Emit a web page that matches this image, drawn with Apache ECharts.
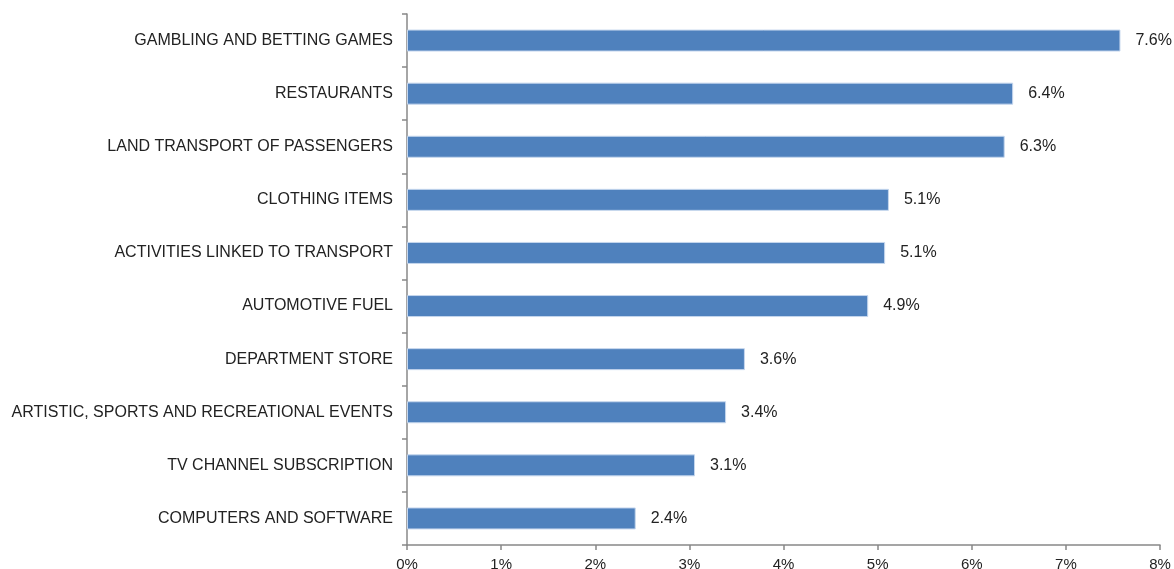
<!DOCTYPE html>
<html><head><meta charset="utf-8">
<script src="https://cdn.jsdelivr.net/npm/echarts@6/dist/echarts.min.js"></script>
<style>html,body{margin:0;padding:0;background:#fff}#c{width:1174px;height:569px}</style>
</head><body><div id="c"></div>
<script>
const categories = [
  "GAMBLING AND BETTING GAMES",
  "RESTAURANTS",
  "LAND TRANSPORT OF PASSENGERS",
  "CLOTHING ITEMS",
  "ACTIVITIES LINKED TO TRANSPORT",
  "AUTOMOTIVE FUEL",
  "DEPARTMENT STORE",
  "ARTISTIC, SPORTS AND RECREATIONAL EVENTS",
  "TV CHANNEL SUBSCRIPTION",
  "COMPUTERS AND SOFTWARE"
];
const values = [7.58, 6.44, 6.35, 5.12, 5.08, 4.90, 3.59, 3.39, 3.06, 2.43];
const valueLabels = ["7.6%", "6.4%", "6.3%", "5.1%", "5.1%", "4.9%", "3.6%", "3.4%", "3.1%", "2.4%"];
const xTicks = [0, 1, 2, 3, 4, 5, 6, 7, 8];

const chart = echarts.init(document.getElementById('c'), null, {renderer: 'canvas'});
const font = 'Liberation Sans, Arial, sans-serif';
chart.setOption({
  animation: false,
  grid: {left: 407, right: 14, top: 14, bottom: 24, containLabel: false, outerBoundsMode: 'none'},
  xAxis: {
    type: 'value', min: xTicks[0], max: xTicks[xTicks.length - 1], interval: 1,
    axisLine: {show: true, lineStyle: {color: '#888', width: 1.5}},
    axisTick: {show: true, length: 5, inside: false, lineStyle: {color: '#888', width: 1.5}},
    splitLine: {show: false},
    axisLabel: {formatter: v => v + '%', color: '#222', fontSize: 15, fontFamily: font, margin: 12}
  },
  yAxis: {
    type: 'category', inverse: true, data: categories,
    axisLine: {show: true, lineStyle: {color: '#888', width: 1.5}},
    axisTick: {show: true, length: 5, alignWithLabel: false, lineStyle: {color: '#888', width: 1.5}},
    axisLabel: {color: '#222', fontSize: 16, fontFamily: font, margin: 14}
  },
  series: [{
    type: 'bar', data: values, barWidth: 22,
    itemStyle: {color: '#4F81BD', borderColor: '#c6d7ee', borderWidth: 1},
    label: {
      show: true, position: 'right', distance: 15,
      formatter: p => valueLabels[p.dataIndex],
      color: '#222', fontSize: 16, fontFamily: font
    }
  }]
});
</script></body></html>
